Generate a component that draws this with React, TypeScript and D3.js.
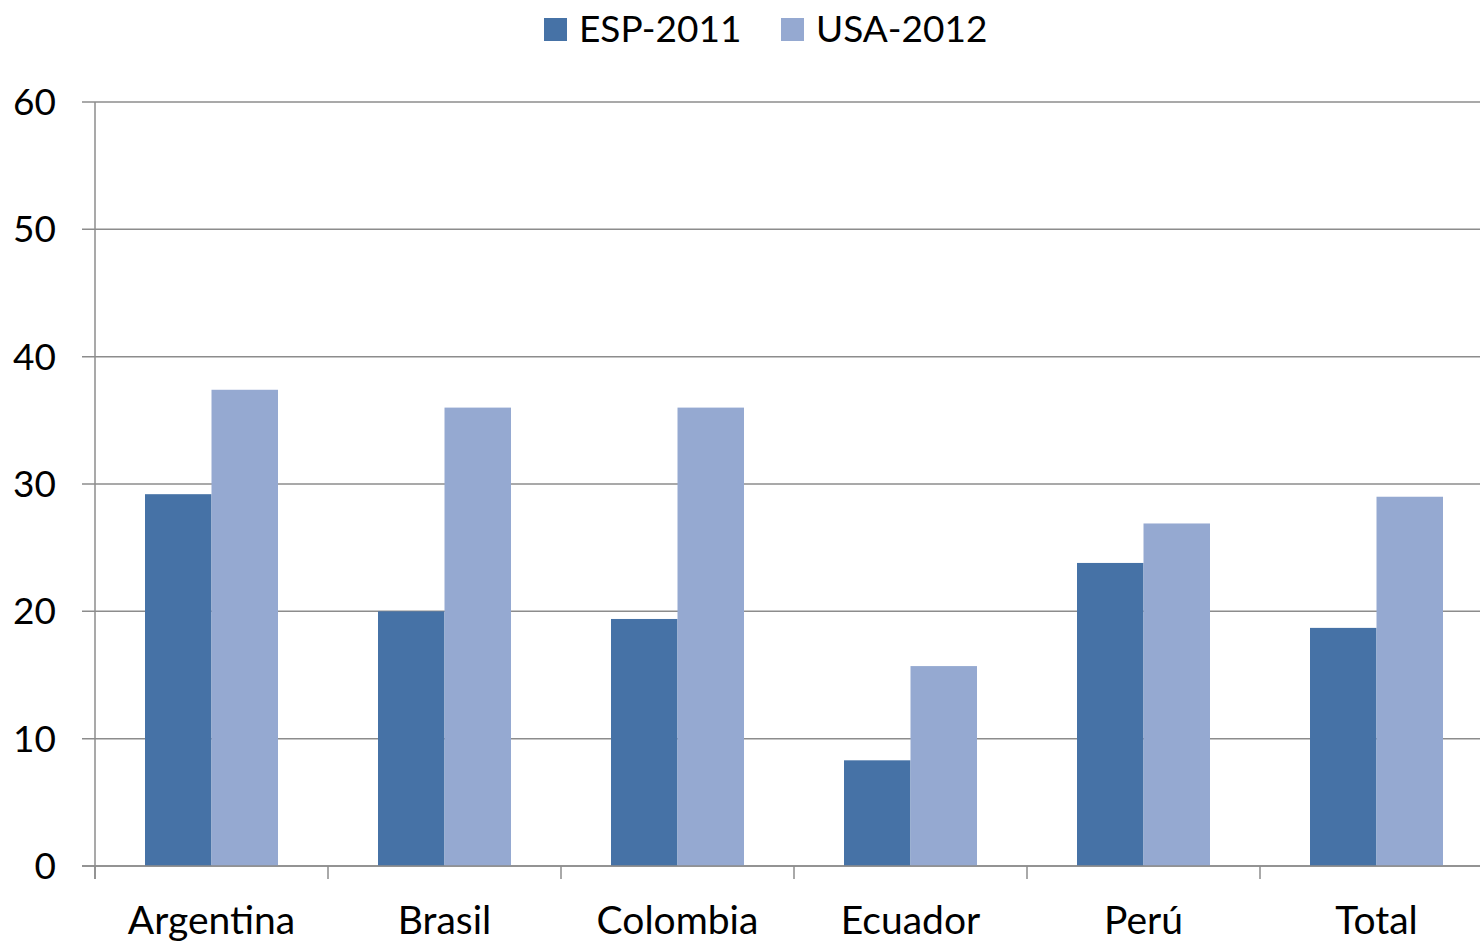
import React from 'react';
import * as d3 from 'd3';

const categories = ['Argentina', 'Brasil', 'Colombia', 'Ecuador', 'Perú', 'Total'];
const seriesNames = ['ESP-2011', 'USA-2012'];
const esp2011 = [29.2, 20.0, 19.4, 8.3, 23.8, 18.7];
const usa2012 = [37.4, 36.0, 36.0, 15.7, 26.9, 29.0];
const yTicks = [0, 10, 20, 30, 40, 50, 60];
const colors = ['#4672a6', '#95a9d1'];

const W = 1480;
const H = 942;
const FONT = 'Lato, "Open Sans", sans-serif';

const App: React.FC = () => {
  const x = d3.scaleBand<string>().domain(categories).range([95, 1493]).padding(0);
  const x1 = d3
    .scaleBand<string>()
    .domain(seriesNames)
    .range([0, x.bandwidth()])
    .paddingInner(0)
    .paddingOuter(0.752);
  const y = d3.scaleLinear().domain([0, 60]).range([866, 102]);

  const values = [esp2011, usa2012];
  const tickXs = categories.map((c) => x(c)!).concat([x.range()[1]]);

  return (
    <svg width={W} height={H} style={{ position: 'absolute', left: 0, top: 0, background: '#fff' }}>
      <rect width={W} height={H} fill="#fff" />
      {/* grid lines */}
      {yTicks.map((t) => (
        <line key={t} x1={82} x2={W} y1={y(t)} y2={y(t)} stroke="#8c8c8c" strokeWidth={1.5} />
      ))}
      {/* bars */}
      {categories.map((c, i) =>
        seriesNames.map((s, j) => (
          <rect
            key={c + s}
            x={x(c)! + x1(s)!}
            y={y(values[j][i])}
            width={x1.bandwidth()}
            height={y(0) - y(values[j][i])}
            fill={colors[j]}
          />
        ))
      )}
      {/* axes */}
      <line x1={95} x2={95} y1={y(60)} y2={879} stroke="#8c8c8c" strokeWidth={1.5} />
      <line x1={82} x2={W} y1={y(0)} y2={y(0)} stroke="#8c8c8c" strokeWidth={1.5} />
      {tickXs.map((tx, i) => (
        <line key={i} x1={tx} x2={tx} y1={y(0)} y2={879} stroke="#8c8c8c" strokeWidth={1.5} />
      ))}
      {yTicks.map((t) => (
        <text
          key={t}
          x={56}
          y={y(t)}
          dy="0.35em"
          textAnchor="end"
          fontFamily={FONT}
          fontSize={37}
          fill="#000"
        >
          {t}
        </text>
      ))}
      {categories.map((c) => (
        <text
          key={c}
          x={x(c)! + x.bandwidth() / 2}
          y={934}
          textAnchor="middle"
          fontFamily={FONT}
          fontSize={39}
          fill="#000"
        >
          {c}
        </text>
      ))}
      {/* legend */}
      {seriesNames.map((s, j) => {
        const lx = j === 0 ? 544 : 781;
        return (
          <g key={s}>
            <rect x={lx} y={18} width={23} height={23} fill={colors[j]} />
            <text x={lx + 35} y={42} fontFamily={FONT} fontSize={37} fill="#000">
              {s}
            </text>
          </g>
        );
      })}
    </svg>
  );
};

export default App;
